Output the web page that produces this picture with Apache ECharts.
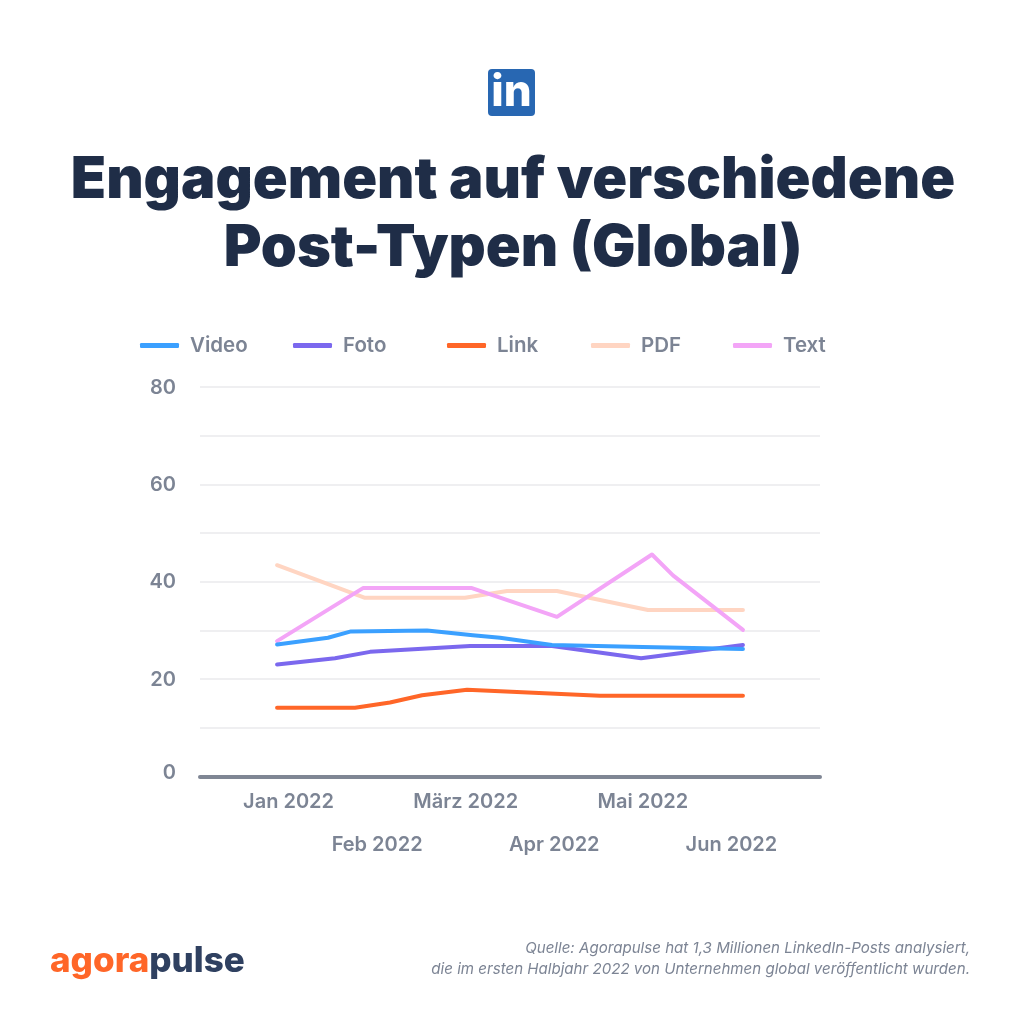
<!DOCTYPE html>
<html>
<head>
<meta charset="utf-8">
<style>
  html, body { margin: 0; padding: 0; background: #fff; }
  #chart { width: 1024px; height: 1024px; }
</style>
<script src="https://cdn.jsdelivr.net/npm/echarts@6/dist/echarts.min.js"></script>
</head>
<body>
<div id="chart"></div>
<script>
const months = ["", "Jan 2022", "Feb 2022", "März 2022", "Apr 2022", "Mai 2022", "Jun 2022", ""];
const seriesNames = ["Video", "Foto", "Link", "PDF", "Text"];
const seriesColors = ["#3ba0ff", "#7b68ee", "#ff6628", "#ffd5c2", "#f3a5f7"];

// x is in months along the axis, y is the engagement value
const videoX = [0.87, 1.445, 1.705, 2.563, 3.08, 3.387, 3.974, 5.0, 6.13];
const videoY = [27.1, 28.5, 29.8, 30.0, 29.0, 28.5, 27.0, 26.6, 26.2];
const fotoX = [0.87, 1.524, 1.92, 3.05, 3.974, 4.98, 6.13];
const fotoY = [23.0, 24.3, 25.6, 26.8, 26.8, 24.3, 27.0];
const linkX = [0.87, 1.75, 2.145, 2.507, 3.015, 4.516, 6.13];
const linkY = [14.1, 14.1, 15.2, 16.7, 17.8, 16.6, 16.6];
const pdfX = [0.87, 1.863, 2.992, 3.466, 4.03, 5.058, 6.13];
const pdfY = [43.4, 36.7, 36.7, 38.1, 38.1, 34.2, 34.2];
const textX = [0.87, 1.84, 3.07, 4.03, 5.103, 5.34, 6.13];
const textY = [27.8, 38.7, 38.7, 32.8, 45.6, 41.3, 30.1];

const seriesX = [videoX, fotoX, linkX, pdfX, textX];
const seriesY = [videoY, fotoY, linkY, pdfY, textY];
const seriesZ = [7, 6, 5, 3, 4];
const legendLeft = [140, 293, 447, 591, 733];

const navy = "#1f2d47";
const grey = "#7c8494";

const chart = echarts.init(document.getElementById("chart"), null, { renderer: "canvas" });

chart.setOption({
  backgroundColor: "#fff",
  animation: false,
  textStyle: { fontFamily: "Inter" },
  color: seriesColors,
  title: [
    {
      text: "Engagement auf verschiedene\nPost-Typen (Global)",
      left: 513,
      top: 147,
      padding: 0,
      textAlign: "center",
      textStyle: { fontFamily: "Inter", fontSize: 57.7, fontWeight: 900, color: navy, lineHeight: 68 }
    }
  ],
  legend: seriesNames.map((name, i) => ({
    data: [name],
    left: legendLeft[i],
    top: 335,
    padding: 0,
    icon: "roundRect",
    itemWidth: 39,
    itemHeight: 5,
    textStyle: { fontSize: 20.5, fontWeight: 600, color: grey, padding: [2, 0, 0, 6] }
  })),
  grid: { left: 200, right: 204, top: 387, bottom: 247.5 },
  xAxis: {
    type: "value",
    min: 0,
    max: 7,
    interval: 1,
    splitLine: { show: false },
    axisTick: { show: false },
    axisLine: { show: true, lineStyle: { color: "#7f8694", width: 4, cap: "round" } },
    axisLabel: {
      margin: 4,
      fontSize: 20,
      fontWeight: 600,
      color: grey,
      lineHeight: 43,
      verticalAlign: "top",
      formatter: (v) => (v % 2 === 0 ? "\n" : "") + months[v]
    }
  },
  yAxis: {
    type: "value",
    min: 0,
    max: 80,
    interval: 20,
    axisLine: { show: false },
    axisTick: { show: false },
    minorTick: { show: false, splitNumber: 2 },
    splitLine: { lineStyle: { color: "#efeff1", width: 2 } },
    minorSplitLine: { show: true, lineStyle: { color: "#efeff1", width: 2 } },
    axisLabel: {
      margin: 24,
      fontSize: 20,
      fontWeight: 600,
      color: grey,
      formatter: (v) => (v === 0 ? "{zero|0}" : "{tick|" + v + "}"),
      rich: {
        zero: { fontSize: 20, fontWeight: 600, color: grey, padding: [0, 0, 7, 0] },
        tick: { fontSize: 20, fontWeight: 600, color: grey, padding: [1, 0, 0, 0] }
      }
    }
  },
  series: seriesNames.map((name, i) => ({
    name,
    type: "line",
    z: seriesZ[i],
    symbol: "none",
    lineStyle: { width: 4, color: seriesColors[i], cap: "round", join: "round" },
    itemStyle: { color: seriesColors[i] },
    data: seriesX[i].map((x, k) => [x, seriesY[i][k]])
  })),
  graphic: [
    {
      type: "rect",
      shape: { x: 488, y: 69, width: 47, height: 47, r: 4 },
      style: { fill: "#2867b2" }
    },
    {
      type: "text",
      x: 511.5,
      y: 93,
      style: {
        text: "in",
        fill: "#fff",
        font: "800 44px Inter",
        align: "center",
        verticalAlign: "middle"
      }
    },
    {
      type: "text",
      x: 50,
      y: 961,
      style: {
        rich: {
          a: { fill: "#ff6628", font: "800 35px Inter" },
          b: { fill: "#2f4060", font: "800 35px Inter" }
        },
        text: "{a|agora}{b|pulse}",
        verticalAlign: "middle"
      }
    },
    {
      type: "text",
      x: 970,
      y: 948,
      style: {
        text: "Quelle: Agorapulse hat 1,3 Millionen LinkedIn-Posts analysiert,",
        fill: grey,
        font: "italic 400 15.1px Inter",
        align: "right",
        verticalAlign: "middle"
      }
    },
    {
      type: "text",
      x: 970,
      y: 969,
      style: {
        text: "die im ersten Halbjahr 2022 von Unternehmen global veröffentlicht wurden.",
        fill: grey,
        font: "italic 400 15.1px Inter",
        align: "right",
        verticalAlign: "middle"
      }
    }
  ]
});
</script>
</body>
</html>
